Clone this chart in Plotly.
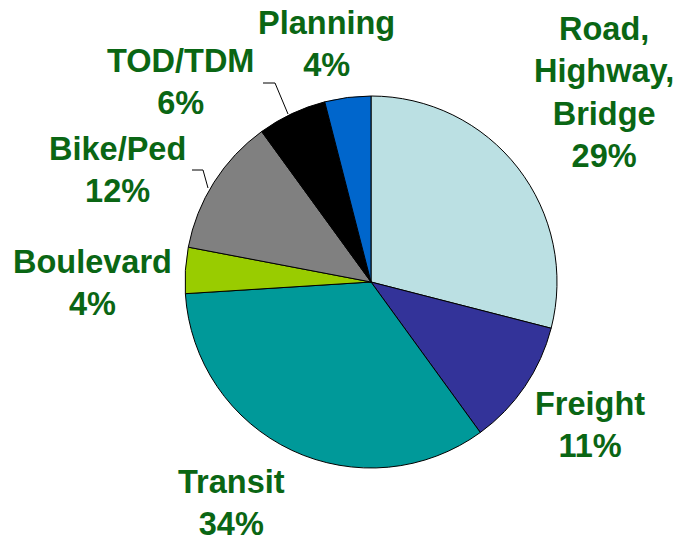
import plotly.graph_objects as go

LABELS = ["Road, Highway, Bridge", "Freight", "Transit", "Boulevard", "Bike/Ped", "TOD/TDM", "Planning"]
SHARES = [29, 11, 34, 4, 12, 6, 4]
COLORS = ["#bbe0e3", "#333399", "#009999", "#99cc00", "#808080", "#000000", "#0066cc"]
LABEL_TEXT = ["Road,<br>Highway,<br>Bridge<br>29%", "Freight<br>11%", "Transit<br>34%",
              "Boulevard<br>4%", "Bike/Ped<br>12%", "TOD/TDM<br>6%", "Planning<br>4%"]

W, H = 680, 541
GREEN = "#0a6614"
FONT = "Arial, Liberation Sans, sans-serif"

# label centres in pixels
LABEL_POS = [(604, 93), (590, 425), (231, 503), (92, 283), (117, 170), (180, 82), (326, 44)]
# leader lines in pixels
LEADERS = [
    [(263, 83), (275, 83), (288, 114)],
    [(192, 170), (203, 170), (208, 188)],
]

cx, cy, r = 371, 282, 186

fig = go.Figure(go.Pie(
    labels=LABELS, values=SHARES, sort=False, direction="clockwise", rotation=0,
    marker=dict(colors=COLORS, line=dict(color="#000000", width=1)),
    textinfo="none", hoverinfo="label+percent", showlegend=False,
    domain=dict(x=[(cx - r) / W, (cx + r) / W], y=[1 - (cy + r) / H, 1 - (cy - r) / H]),
))

for txt, (x, y) in zip(LABEL_TEXT, LABEL_POS):
    fig.add_annotation(
        x=x / W, y=1 - y / H, xref="paper", yref="paper", text=txt, showarrow=False,
        xanchor="center", yanchor="middle", align="center",
        font=dict(family=FONT, size=32.5, color=GREEN, weight="bold"),
    )

for pts in LEADERS:
    path = "M " + " L ".join(f"{x / W},{1 - y / H}" for x, y in pts)
    fig.add_shape(type="path", path=path, xref="paper", yref="paper",
                  line=dict(color="#000000", width=1))

fig.update_layout(
    width=W, height=H, margin=dict(l=0, r=0, t=0, b=0),
    paper_bgcolor="#ffffff", plot_bgcolor="#ffffff",
    font=dict(family=FONT),
)

fig.write_html("out.html", config={"displayModeBar": False},
               post_script="document.body.style.margin='0';")
